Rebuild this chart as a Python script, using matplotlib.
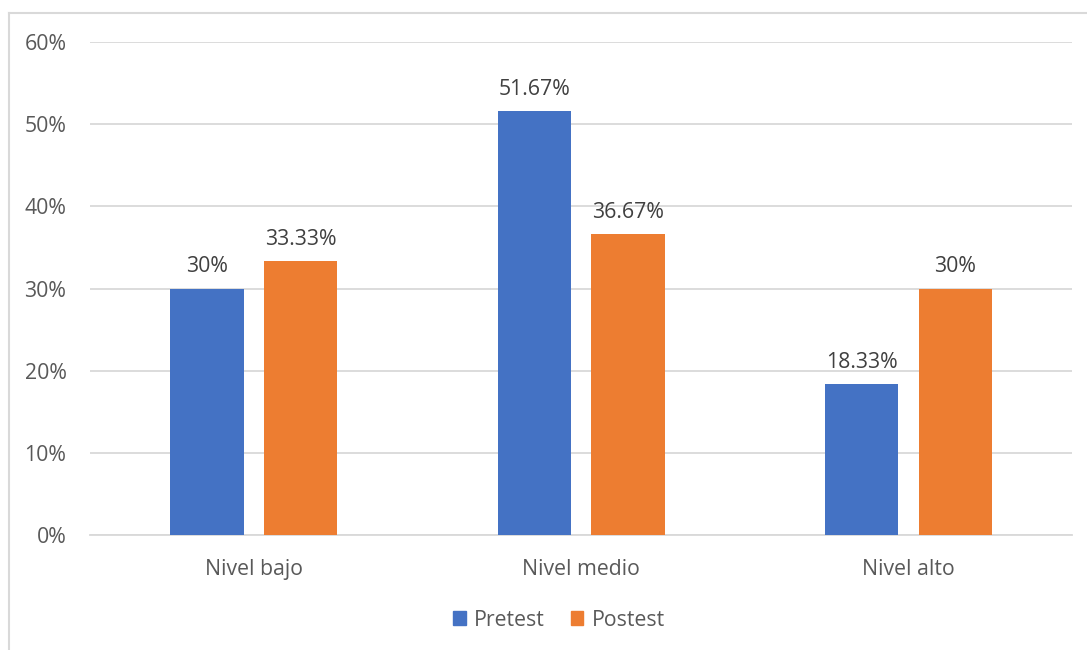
import matplotlib.pyplot as plt
from matplotlib.patches import Patch
from matplotlib.lines import Line2D
import numpy as np

categories = ['Nivel bajo', 'Nivel medio', 'Nivel alto']
pretest = [30.0, 51.67, 18.33]
postest = [33.33, 36.67, 30.0]
pre_labels = ['30%', '51.67%', '18.33%']
post_labels = ['33.33%', '36.67%', '30%']

blue = '#4472c4'
orange = '#ed7d31'
grey_text = '#595959'
grid_col = '#d9d9d9'

plt.rcParams['font.family'] = ['Open Sans', 'DejaVu Sans']

fig = plt.figure(figsize=(10.87, 6.5), dpi=100)
ax = fig.add_axes([0.0828, 0.177, 0.9035, 0.758])

x = np.arange(len(categories))
w = 0.224
off = 0.143
b1 = ax.bar(x - off, pretest, w, color=blue, zorder=3)
b2 = ax.bar(x + off, postest, w, color=orange, zorder=3)

for bars, labs in ((b1, pre_labels), (b2, post_labels)):
    for rect, lab in zip(bars, labs):
        ax.annotate(lab, (rect.get_x() + rect.get_width() / 2, rect.get_height()),
                    xytext=(0, 8), textcoords='offset points',
                    ha='center', va='bottom', fontsize=15.3, color='#404040')

ax.set_xlim(-0.5, 2.5)
ax.set_ylim(0, 60)
ax.set_yticks(range(0, 61, 10))
ax.set_yticklabels([f'{v}%' for v in range(0, 61, 10)])
ax.set_xticks(x)
ax.set_xticklabels(categories)
ax.yaxis.grid(True, color=grid_col, linewidth=1.3, zorder=0)
for s in ('top', 'right', 'left'):
    ax.spines[s].set_visible(False)
ax.spines['bottom'].set_color(grid_col)
ax.spines['bottom'].set_linewidth(1.3)
ax.tick_params(axis='both', length=0, labelsize=15.3, labelcolor=grey_text)
ax.tick_params(axis='y', pad=17)
ax.tick_params(axis='x', pad=17)

# outer chart frame (top and left edges only)
fig.add_artist(Line2D([9 / 1087, 1], [1 - 13 / 650, 1 - 13 / 650],
                      color=grid_col, linewidth=1.5, transform=fig.transFigure))
fig.add_artist(Line2D([9 / 1087, 9 / 1087], [0, 1 - 13 / 650],
                      color=grid_col, linewidth=1.5, transform=fig.transFigure))

handles = [Patch(color=blue, label='Pretest'), Patch(color=orange, label='Postest')]
fig.legend(handles=handles, loc='center', bbox_to_anchor=(559 / 1087, 1 - 620 / 650),
           ncol=2, frameon=False, fontsize=15.3, labelcolor=grey_text,
           handlelength=0.6, handleheight=0.6, handletextpad=0.4, columnspacing=1.2)

fig.savefig('out.png', dpi=100)
